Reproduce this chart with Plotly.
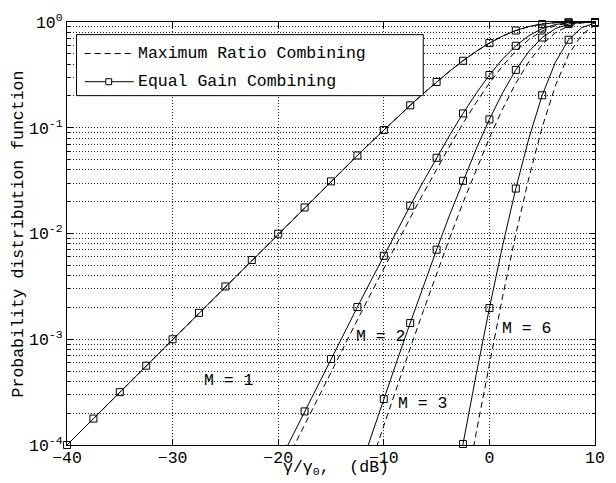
import plotly.graph_objects as go

# ---- data -----------------------------------------------------------------
# normalised SNR grid, gamma/gamma_0 in dB
DB = [-40, -38.75, -37.5, -36.25, -35, -33.75, -32.5, -31.25, -30, -28.75,
      -27.5, -26.25, -25, -23.75, -22.5, -21.25, -20, -18.75, -17.5, -16.25,
      -15, -13.75, -12.5, -11.25, -10, -8.75, -7.5, -6.25, -5, -3.75,
      -2.5, -1.25, 0, 1.25, 2.5, 3.75, 5, 6.25, 7.5, 8.75, 10]

# single branch (MRC and EGC coincide)
P_M1 = [1.000e-4, 1.333e-4, 1.778e-4, 2.371e-4, 3.162e-4, 4.216e-4, 5.622e-4,
        7.496e-4, 9.995e-4, 1.333e-3, 1.777e-3, 2.369e-3, 3.157e-3, 4.208e-3,
        5.608e-3, 7.471e-3, 9.950e-3, 1.325e-2, 1.763e-2, 2.343e-2, 3.113e-2,
        4.129e-2, 5.468e-2, 7.225e-2, 9.516e-2, 1.248e-1, 1.629e-1, 2.111e-1,
        2.711e-1, 3.441e-1, 4.301e-1, 5.276e-1, 6.321e-1, 7.365e-1, 8.311e-1,
        9.066e-1, 9.577e-1, 9.853e-1, 9.964e-1, 9.994e-1, 1.000e0]

# two branches (grid from -22.5 dB)
MRC_M2 = [1.575e-5, 2.798e-5, 4.967e-5, 8.813e-5, 1.563e-4, 2.768e-4, 4.896e-4,
          8.645e-4, 1.523e-3, 2.675e-3, 4.679e-3, 8.139e-3, 1.406e-2, 2.404e-2,
          4.061e-2, 6.746e-2, 1.097e-1, 1.733e-1, 2.642e-1, 3.850e-1, 5.307e-1,
          6.853e-1, 8.238e-1, 9.231e-1, 9.761e-1, 9.953e-1, 9.995e-1]
EGC_M2 = [2.099e-5, 3.727e-5, 6.614e-5, 1.173e-4, 2.078e-4, 3.679e-4, 6.500e-4,
          1.146e-3, 2.016e-3, 3.532e-3, 6.157e-3, 1.067e-2, 1.832e-2, 3.110e-2,
          5.203e-2, 8.538e-2, 1.366e-1, 2.118e-1, 3.152e-1, 4.464e-1, 5.959e-1,
          7.440e-1, 8.664e-1, 9.463e-1, 9.848e-1, 9.973e-1, 9.997e-1]

# three branches (grid from -13.75 dB)
MRC_M3 = [1.211e-5, 2.842e-5, 6.645e-5, 1.547e-4, 3.577e-4, 8.207e-4, 1.862e-3,
          4.166e-3, 9.141e-3, 1.956e-2, 4.049e-2, 8.030e-2, 1.507e-1, 2.636e-1,
          4.228e-1, 6.122e-1, 7.920e-1, 9.190e-1, 9.797e-1, 9.972e-1]
EGC_M3 = [2.160e-5, 5.054e-5, 1.177e-4, 2.726e-4, 6.261e-4, 1.423e-3, 3.192e-3,
          7.028e-3, 1.511e-2, 3.150e-2, 6.308e-2, 1.200e-1, 2.140e-1, 3.526e-1,
          5.287e-1, 7.134e-1, 8.648e-1, 9.549e-1, 9.906e-1, 9.990e-1]

# six branches (grid from -5 dB)
MRC_M6 = [1.060e-6, 5.449e-6, 2.719e-5, 1.305e-4, 5.942e-4, 2.527e-3, 9.824e-3,
          3.398e-2, 1.012e-1, 2.496e-1, 4.921e-1, 7.584e-1, 9.329e-1]
EGC_M6 = [4.299e-6, 2.139e-5, 1.023e-4, 4.645e-4, 1.971e-3, 7.661e-3, 2.661e-2,
          8.020e-2, 2.028e-1, 4.165e-1, 6.791e-1, 8.857e-1, 9.781e-1]

CURVE_LABELS = ["M = 1", "M = 2", "M = 3", "M = 6"]
LEGEND_NAMES = ["Maximum Ratio Combining", "Equal Gain Combining"]
X_TICKS = [-40, -30, -20, -10, 0, 10]
Y_TICKS = [1e-4, 1e-3, 1e-2, 1e-1, 1e0]
Y_TICK_TEXT = ["10<sup>-4</sup>", "10<sup>-3</sup>", "10<sup>-2</sup>",
               "10<sup>-1</sup>", "10<sup>0</sup>"]
MARKER_STEP = 2.5   # EGC curves carry a marker every 2.5 dB

# ---- figure ---------------------------------------------------------------
FONT = "Liberation Mono"
FS = 16.5
W, H = 616, 483
L, R, T, B = 67, 11, 20, 38
PW, PH = W - L - R, H - T - B
Y_MIN = 1e-4

def px(x):
    return (x - L) / PW

def py(y):
    return (T + PH - y) / PH

fig = go.Figure()
dashed = dict(color="black", width=1, dash="6px,4px")
solid = dict(color="black", width=1)

series = [(P_M1, P_M1), (MRC_M2, EGC_M2), (MRC_M3, EGC_M3), (MRC_M6, EGC_M6)]
for mrc, egc in series:
    xm = DB[-len(mrc):]
    xe = DB[-len(egc):]
    fig.add_trace(go.Scatter(x=xm, y=mrc, mode="lines", line=dashed,
                             showlegend=False, hoverinfo="skip"))
    fig.add_trace(go.Scatter(x=xe, y=egc, mode="lines", line=solid,
                             showlegend=False, hoverinfo="skip"))
    keep = [(x, v) for x, v in zip(xe, egc)
            if (x / MARKER_STEP) % 1 == 0 and v >= Y_MIN]
    fig.add_trace(go.Scatter(x=[k[0] for k in keep], y=[k[1] for k in keep],
                             mode="markers", cliponaxis=False,
                             marker=dict(symbol="square-open", size=7,
                                         color="black", line=dict(width=1)),
                             showlegend=False, hoverinfo="skip"))

grid = dict(showgrid=True, gridcolor="#222", gridwidth=1, griddash="1px,2px")
fig.update_xaxes(range=[-40, 10], tickvals=X_TICKS, ticks="inside", ticklen=6,
                 tickcolor="black", showline=True, linecolor="black",
                 linewidth=1, mirror="ticks", zeroline=False,
                 ticklabelstandoff=-3,
                 tickfont=dict(family=FONT, size=FS, color="black"), **grid)
minor_vals = [k * 10 ** e for e in range(-4, 0) for k in range(2, 10)]
fig.update_yaxes(type="log", range=[-4, 0], tickvals=Y_TICKS,
                 ticktext=Y_TICK_TEXT, ticks="inside", ticklen=6,
                 tickcolor="black", showline=True, linecolor="black",
                 linewidth=1, mirror="ticks", zeroline=False,
                 tickfont=dict(family=FONT, size=FS, color="black"),
                 minor=dict(tickvals=minor_vals, ticks="inside", ticklen=3,
                            tickcolor="black", showgrid=True,
                            gridcolor="#222", gridwidth=1,
                            griddash="1px,2px"),
                 **grid)

# curve labels
label_pos = [(-27.2, -3.39), (-12.8, -2.974), (-8.83, -3.608), (1.05, -2.90)]
for text, (lx, ly) in zip(CURVE_LABELS, label_pos):
    fig.add_annotation(x=lx, y=ly, xref="x", yref="y", text=text,
                       showarrow=False, xanchor="left", yanchor="middle",
                       font=dict(family=FONT, size=FS, color="black"))

# axis titles
fig.add_annotation(x=px(18), y=0.5, xref="paper", yref="paper",
                   text="Probability distribution function", textangle=-90,
                   showarrow=False, xanchor="center", yanchor="middle",
                   font=dict(family=FONT, size=FS, color="black"))
fig.add_annotation(x=px(341), y=py(468), xref="paper", yref="paper",
                   text="\u03b3/\u03b3<sub>0</sub>,\u00a0\u00a0(dB)",
                   showarrow=False, xanchor="center", yanchor="middle",
                   font=dict(family=FONT, size=FS, color="black"))

# legend box drawn by hand
shapes = [
    dict(type="rect", xref="paper", yref="paper", x0=px(76.7), x1=px(430),
         y0=py(94), y1=py(32.7), fillcolor="white",
         line=dict(color="black", width=1), layer="above"),
    dict(type="line", xref="paper", yref="paper", x0=px(85), x1=px(135),
         y0=py(51.7), y1=py(51.7), line=dashed, layer="above"),
    dict(type="line", xref="paper", yref="paper", x0=px(85), x1=px(135),
         y0=py(80), y1=py(80), line=solid, layer="above"),
    dict(type="rect", xref="paper", yref="paper", x0=px(106.5), x1=px(112.5),
         y0=py(83), y1=py(77), fillcolor="white",
         line=dict(color="black", width=1), layer="above"),
]
for name, yy in zip(LEGEND_NAMES, [51.7, 80]):
    fig.add_annotation(x=px(137), y=py(yy), xref="paper", yref="paper",
                       text=name, showarrow=False, xanchor="left",
                       yanchor="middle",
                       font=dict(family=FONT, size=FS, color="black"))

fig.update_layout(width=W, height=H, margin=dict(l=L, r=R, t=T, b=B),
                  paper_bgcolor="white", plot_bgcolor="white",
                  shapes=shapes, showlegend=False)
fig.write_html("out.html")
